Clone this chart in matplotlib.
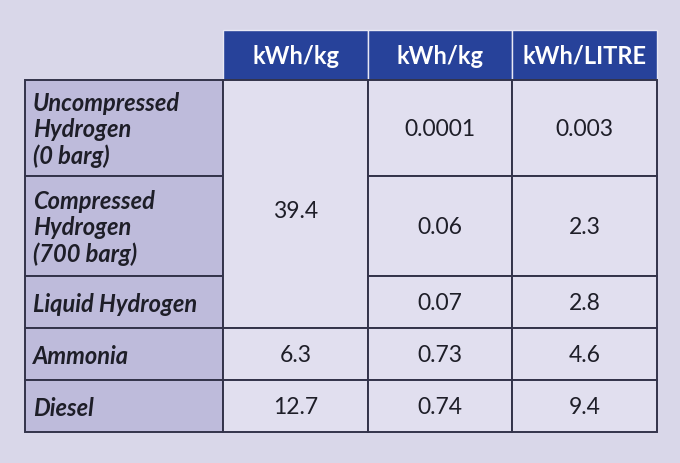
import matplotlib.pyplot as plt
from matplotlib.patches import Rectangle

plt.rcParams.update({
    "font.family": ["Lato", "DejaVu Sans"],
    "figure.dpi": 100,
})

# table content
col_headers = ["kWh/kg", "kWh/kg", "kWh/LITRE"]
row_labels = [
    "Uncompressed\nHydrogen\n(0 barg)",
    "Compressed\nHydrogen\n(700 barg)",
    "Liquid Hydrogen",
    "Ammonia",
    "Diesel",
]
col1_values = ["39.4", "39.4", "39.4", "6.3", "12.7"]
col2_values = ["0.0001", "0.06", "0.07", "0.73", "0.74"]
col3_values = ["0.003", "2.3", "2.8", "4.6", "9.4"]

BG = "#D9D7E9"
CELL = "#E1DFEF"
LABEL = "#BEBBDB"
HEAD = "#27429A"
LINE = "#33334A"
TXT = "#1E1E28"

W, H = 680, 463
fig = plt.figure(figsize=(W / 100, H / 100), facecolor=BG)
ax = fig.add_axes([0, 0, 1, 1])
ax.set_xlim(0, W)
ax.set_ylim(H, 0)
ax.axis("off")

# layout in pixels
label_x0 = 25
col_x = [223, 368, 512, 657]
head_y0, head_y1 = 30, 80
row_h = [96, 100, 52, 52, 52]
row_y = [head_y1]
for h in row_h:
    row_y.append(row_y[-1] + h)

# header
for i, txt in enumerate(col_headers):
    x0, x1 = col_x[i], col_x[i + 1]
    ax.add_patch(Rectangle((x0, head_y0), x1 - x0, head_y1 - head_y0,
                           facecolor=HEAD, edgecolor="#E8E8F4", linewidth=1.0))
    ax.text((x0 + x1) / 2, (head_y0 + head_y1) / 2 + 1, txt, color="white",
            fontsize=17, fontweight="bold", ha="center", va="center")

# row labels
for r, lab in enumerate(row_labels):
    y0, y1 = row_y[r], row_y[r + 1]
    ax.add_patch(Rectangle((label_x0, y0), col_x[0] - label_x0, y1 - y0,
                           facecolor=LABEL, edgecolor=LINE, linewidth=1.4))
    ax.text(label_x0 + 8, (y0 + y1) / 2 + 2, lab, color=TXT, fontsize=17,
            fontweight="bold", fontstyle="italic", ha="left", va="center",
            linespacing=1.15)


def draw_column(ci, values):
    x0, x1 = col_x[ci], col_x[ci + 1]
    r = 0
    while r < len(values):
        r_end = r + 1
        while r_end < len(values) and values[r_end] == values[r]:
            r_end += 1
        y0, y1 = row_y[r], row_y[r_end]
        ax.add_patch(Rectangle((x0, y0), x1 - x0, y1 - y0,
                               facecolor=CELL, edgecolor=LINE, linewidth=1.4))
        yc = (y0 + y1) / 2 + (8 if r_end - r > 1 else 1)
        ax.text((x0 + x1) / 2, yc, values[r], color=TXT, fontsize=16.5,
                ha="center", va="center")
        r = r_end


draw_column(0, col1_values)
draw_column(1, col2_values)
draw_column(2, col3_values)

fig.savefig("out.png", dpi=100, facecolor=BG)
